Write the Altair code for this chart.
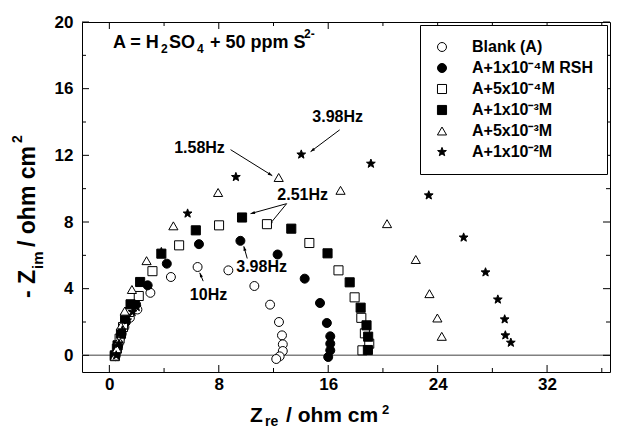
import math
import altair as alt
import pandas as pd

FONT = "Liberation Sans"

# ---------------- data ----------------
series = ["Blank (A)", "A+1x10⁻⁴M RSH", "A+5x10⁻⁴M", "A+1x10⁻³M", "A+5x10⁻³M", "A+1x10⁻²M"]

blank_x = [0.45, 0.6, 0.8, 1.1, 1.5, 2.05, 3.0, 4.5, 6.45, 8.7, 10.6, 11.75, 12.4, 12.62, 12.68, 12.68, 12.45, 12.2]
blank_y = [-0.05, 0.45, 1.05, 1.7, 2.25, 2.75, 3.75, 4.7, 5.3, 5.1, 4.16, 3.04, 2.0, 1.2, 0.66, 0.26, -0.06, -0.22]

rsh1e4_x = [0.45, 0.65, 0.9, 1.2, 1.5, 1.95, 2.8, 4.2, 6.55, 9.58, 12.3, 14.28, 15.4, 15.9, 16.15, 16.15, 16.15, 16.0]
rsh1e4_y = [0.0, 0.6, 1.3, 2.0, 2.6, 3.06, 4.2, 5.5, 6.67, 6.87, 6.05, 4.6, 3.14, 1.94, 1.14, 0.7, 0.3, -0.1]

rsh5e4_x = [0.4, 0.55, 0.75, 1.0, 1.45, 2.15, 3.15, 5.1, 8.02, 11.52, 14.62, 16.75, 17.93, 18.42, 18.68, 19.0, 18.5]
rsh5e4_y = [-0.05, 0.4, 1.0, 1.7, 2.6, 3.56, 5.05, 6.6, 7.8, 7.87, 6.74, 5.1, 3.48, 2.25, 1.32, 0.7, 0.3]

rsh1e3_x = [0.4, 0.6, 0.85, 1.15, 1.55, 2.25, 3.8, 6.32, 9.7, 13.3, 15.95, 17.57, 18.37, 18.8, 18.92, 18.9]
rsh1e3_y = [0.0, 0.6, 1.3, 2.2, 3.06, 4.4, 6.1, 7.5, 8.27, 7.6, 6.12, 4.38, 2.86, 1.8, 1.12, 0.32]

rsh5e3_x = [0.4, 0.55, 0.7, 0.85, 1.12, 1.65, 2.72, 4.68, 7.95, 12.38, 16.9, 20.3, 22.4, 23.4, 23.98, 24.3]
rsh5e3_y = [-0.05, 0.4, 0.9, 1.76, 2.65, 3.95, 5.68, 7.77, 9.77, 10.67, 9.9, 7.9, 5.75, 3.7, 2.24, 1.14]

rsh1e2_x = [0.5, 0.7, 0.95, 1.3, 1.7, 2.0, 3.8, 5.72, 9.25, 14.03, 19.12, 23.35, 25.9, 27.5, 28.4, 28.9, 28.95, 29.35]
rsh1e2_y = [0.0, 0.7, 1.5, 2.1, 2.6, 2.9, 6.2, 8.51, 10.7, 12.05, 11.5, 9.6, 7.07, 4.98, 3.35, 2.16, 1.2, 0.76]

# frequency annotations
ann_text = ["3.98Hz", "1.58Hz", "2.51Hz", "3.98Hz", "10Hz"]
ann_x = [16.69, 6.59, 14.13, 11.13, 7.25]
ann_y = [14.31, 12.46, 9.64, 5.33, 3.65]

arrow_x1 = [16.84, 8.86, 12.96, 12.96, 10.08, 6.86]
arrow_y1 = [13.53, 12.34, 9.10, 9.10, 5.81, 4.45]
arrow_x2 = [14.71, 11.91, 10.32, 11.66, 9.83, 6.61]
arrow_y2 = [12.22, 10.78, 8.50, 7.80, 6.54, 4.95]

x_major = [0, 8, 16, 24, 32]
x_minor = [4, 12, 20, 28, 36]
y_major = [0, 4, 8, 12, 16, 20]
y_minor = [2, 6, 10, 14, 18]

# ---------------- layout ----------------
XMIN, XMAX = -2, 36.6
YMIN, YMAX = -1, 20
W, H = 528, 350

xs = [blank_x, rsh1e4_x, rsh5e4_x, rsh1e3_x, rsh5e3_x, rsh1e2_x]
ys = [blank_y, rsh1e4_y, rsh5e4_y, rsh1e3_y, rsh5e3_y, rsh1e2_y]
rows = []
for s, xx, yy in zip(series, xs, ys):
    for a, b in zip(xx, yy):
        rows.append({"s": s, "x": a, "y": b})
df = pd.DataFrame(rows)

# star path
pts = []
for k in range(10):
    r = 1.0 if k % 2 == 0 else 0.42
    ang = math.radians(-90 + 36 * k)
    pts.append(f"{r*math.cos(ang):.3f},{r*math.sin(ang):.3f}")
star = "M" + "L".join(pts) + "Z"

xsc = alt.Scale(domain=[XMIN, XMAX], nice=False, zero=False)
ysc = alt.Scale(domain=[YMIN, YMAX], nice=False, zero=False)

leg = alt.Legend(title=None, orient="top-right", offset=3, strokeColor="black",
                 fillColor="white", padding=14, rowPadding=5, labelFont=FONT,
                 labelFontWeight="bold", labelFontSize=16, labelColor="black",
                 labelOffset=22, symbolStrokeColor="black",
                 symbolStrokeWidth=1, symbolOpacity=1)

points = alt.Chart(df).mark_point(filled=True, strokeWidth=1, opacity=1).encode(
    x=alt.X("x:Q", scale=xsc, axis=alt.Axis(values=x_major, domain=False, ticks=False, tickSize=0, grid=False,
                                             labelFont=FONT, labelFontWeight="bold", labelFontSize=17,
                                             labelColor="black", labelPadding=4, title=None)),
    y=alt.Y("y:Q", scale=ysc, axis=alt.Axis(values=y_major, domain=False, ticks=False, tickSize=0, grid=False,
                                             labelFont=FONT, labelFontWeight="bold", labelFontSize=17,
                                             labelColor="black", labelPadding=9, title=None)),
    shape=alt.Shape("s:N", scale=alt.Scale(domain=series,
                                           range=["circle", "circle", "square", "square", "triangle-up", star]),
                    legend=leg),
    fill=alt.Fill("s:N", scale=alt.Scale(domain=series,
                                         range=["white", "black", "white", "black", "white", "black"]),
                  legend=leg),
    stroke=alt.Stroke("s:N", scale=alt.Scale(domain=series, range=["black"] * 6), legend=leg),
    size=alt.Size("s:N", scale=alt.Scale(domain=series, range=[80, 85, 72, 72, 115, 150]), legend=leg),
)

zero_df = pd.DataFrame({"y": [0]})
zero = alt.Chart(zero_df).mark_rule(color="#808080", strokeWidth=1.5).encode(y=alt.Y("y:Q", scale=ysc))

def xticks(vals, L):
    d = pd.DataFrame({"x": vals})
    b = alt.Chart(d).mark_rule(color="black", strokeWidth=1).encode(
        x=alt.X("x:Q", scale=xsc), y=alt.value(H), y2=alt.value(H - L))
    t = alt.Chart(d).mark_rule(color="black", strokeWidth=1).encode(
        x=alt.X("x:Q", scale=xsc), y=alt.value(0), y2=alt.value(L))
    return b + t

def yticks(vals, L):
    d = pd.DataFrame({"y": vals})
    l = alt.Chart(d).mark_rule(color="black", strokeWidth=1).encode(
        y=alt.Y("y:Q", scale=ysc), x=alt.value(0), x2=alt.value(L))
    r = alt.Chart(d).mark_rule(color="black", strokeWidth=1).encode(
        y=alt.Y("y:Q", scale=ysc), x=alt.value(W), x2=alt.value(W - L))
    return l + r

ticks = xticks(x_major, 7) + xticks(x_minor, 4) + yticks(y_major, 7) + yticks(y_minor, 4)

ann_df = pd.DataFrame({"t": ann_text, "x": ann_x, "y": ann_y})
ann = alt.Chart(ann_df).mark_text(font=FONT, fontWeight="bold", fontSize=16, color="black",
                                  align="center", baseline="middle").encode(
    x=alt.X("x:Q", scale=xsc), y=alt.Y("y:Q", scale=ysc), text="t:N")

px_x = W / (XMAX - XMIN)
px_y = H / (YMAX - YMIN)
angles = []
for a, b, c, d in zip(arrow_x1, arrow_y1, arrow_x2, arrow_y2):
    th = math.degrees(math.atan2(-(d - b) * px_y, (c - a) * px_x))
    angles.append((th + 360) % 360)
arr_df = pd.DataFrame({"x": arrow_x1, "y": arrow_y1, "x2": arrow_x2, "y2": arrow_y2, "ang": angles})
arr_lines = alt.Chart(arr_df).mark_rule(color="black", strokeWidth=1).encode(
    x=alt.X("x:Q", scale=xsc), y=alt.Y("y:Q", scale=ysc), x2="x2:Q", y2="y2:Q")
arr_heads = alt.Chart(arr_df).mark_point(shape="M0,0L-2,-0.7L-2,0.7Z", filled=True, color="black",
                                         size=20, opacity=1).encode(
    x=alt.X("x2:Q", scale=xsc), y=alt.Y("y2:Q", scale=ysc), angle=alt.Angle("ang:Q", scale=None))

def pieces(text, px, py, fs, angle=0):
    d = pd.DataFrame({"t": text, "px": px, "py": py, "fs": fs})
    kw = {"angle": angle} if angle else {}
    return alt.Chart(d).mark_text(font=FONT, fontWeight="bold", color="black", align="left",
                                  baseline="alphabetic", **kw).encode(
        x=alt.X("px:Q", scale=None), y=alt.Y("py:Q", scale=None), text="t:N",
        size=alt.Size("fs:Q", scale=None))

# top-left note: "A = H2SO4 + 50 ppm S2-" with sub/superscripts
note = pieces(["A = H", "2", "SO", "4", "+ 50 ppm S", "2-"],
              [31, 79, 87, 115, 128, 222],
              [26, 31, 26, 31, 26, 16],
              [18, 12, 18, 12, 18, 12])

# x-axis title
xtitle = pieces(["Z", "re", "/ ohm cm", "2"],
                [168, 183, 204, 300],
                [400, 404, 400, 392],
                [21, 14, 21, 13])

# y-axis title (rotated)
ytitle = pieces(["- Z", "im", "/ ohm cm", "2"],
                [-47, -39, -47, -60],
                [276, 247, 225, 121],
                [23, 15, 23, 14], angle=270)

chart = alt.layer(zero, ticks, arr_lines, arr_heads, ann, note, xtitle, ytitle, points).properties(
    width=W, height=H,
    autosize=alt.AutoSizeParams(type="none"),
    padding={"left": 74, "top": 14, "right": 2, "bottom": 58},
).configure_view(stroke="black", strokeWidth=1).resolve_scale(shape="shared", fill="shared")

chart.save("out.html", embed_options={"renderer": "svg", "actions": False})
